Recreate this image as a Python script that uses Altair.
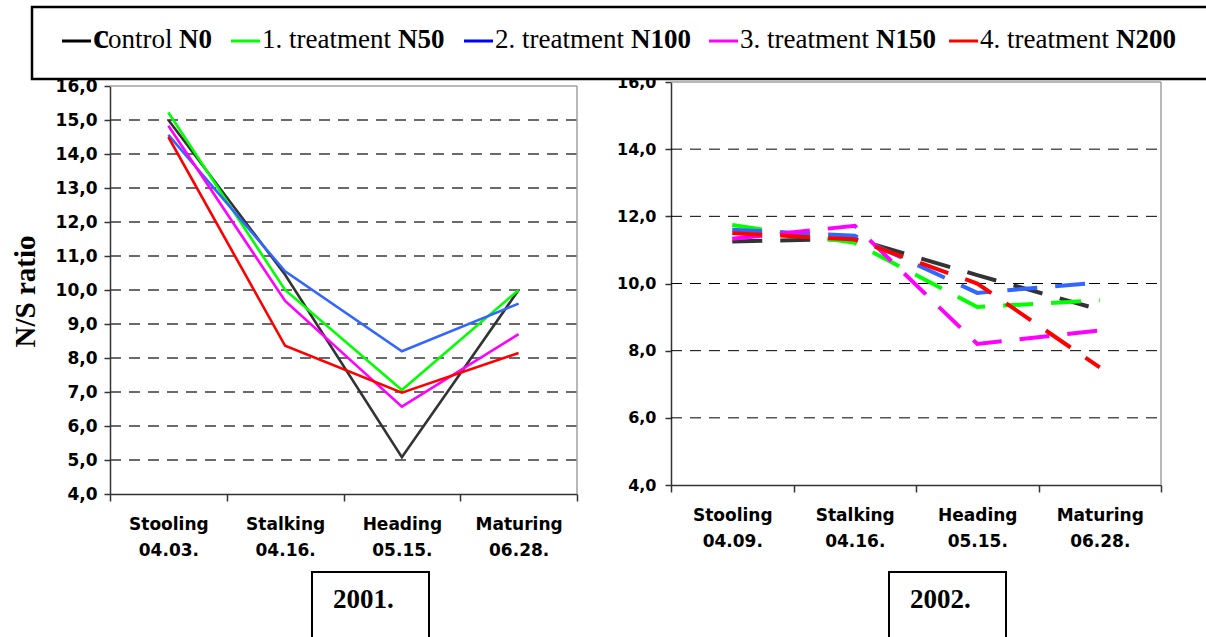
import altair as alt
import pandas as pd

# ---- data -------------------------------------------------------------
stages_2001 = ["Stooling|04.03.", "Stalking|04.16.", "Heading|05.15.", "Maturing|06.28."]
stages_2002 = ["Stooling|04.09.", "Stalking|04.16.", "Heading|05.15.", "Maturing|06.28."]
series = ["control N0", "1. treatment N50", "2. treatment N100",
          "3. treatment N150", "4. treatment N200"]
years = ["2001.", "2002."]

# N/S ratio, 2001
ns_2001_n0 = [15.0, 10.45, 5.08, 10.0]
ns_2001_n50 = [15.22, 10.0, 7.06, 10.0]
ns_2001_n100 = [14.56, 10.55, 8.2, 9.6]
ns_2001_n150 = [14.83, 9.68, 6.57, 8.7]
ns_2001_n200 = [14.5, 8.36, 6.98, 8.15]

# N/S ratio, 2002
ns_2002_n0 = [11.25, 11.33, 10.25, 9.22]
ns_2002_n50 = [11.74, 11.21, 9.3, 9.5]
ns_2002_n100 = [11.6, 11.42, 9.72, 10.03]
ns_2002_n150 = [11.33, 11.72, 8.2, 8.6]
ns_2002_n200 = [11.5, 11.31, 10.0, 7.5]

y_ticks_2001 = [4, 5, 6, 7, 8, 9, 10, 11, 12, 13, 14, 15, 16]
y_ticks_2002 = [4, 6, 8, 10, 12, 14, 16]
grid_2001 = [5, 6, 7, 8, 9, 10, 11, 12, 13, 14, 15]
grid_2002 = [6, 8, 10, 12, 14]

# ---- styling ----------------------------------------------------------
line_colors = ["#333333", "#00ff00", "#3366ff", "#ff00ff", "#ff0000"]
legend_colors = ["#000000", "#00ff00", "#0000ff", "#ff00ff", "#ff0000"]
AXIS_FONT = "DejaVu Sans"
SERIF = "Liberation Serif"
W, H = 1206, 637

# plot-area placement of the two panels (pixels)
P1 = dict(x0=110, x1=577, ytop=86, ybot=494)
P2 = dict(x0=671, x1=1161, ytop=82, ybot=485)


def long_table(stages, rows):
    recs = []
    for name, vals in zip(series, rows):
        for i, (st, v) in enumerate(zip(stages, vals)):
            recs.append({"series": name, "stage": st, "idx": i, "ns": v})
    return pd.DataFrame(recs)


df01 = long_table(stages_2001, [ns_2001_n0, ns_2001_n50, ns_2001_n100, ns_2001_n150, ns_2001_n200])
df02 = long_table(stages_2002, [ns_2002_n0, ns_2002_n50, ns_2002_n100, ns_2002_n150, ns_2002_n200])

color_scale = alt.Scale(domain=series, range=line_colors)
label_expr_num = "replace(format(datum.value, '.1f'), '.', ',')"


def panel(df, stages, p, yvals, gridvals, y_label_size, y_label_pad, dashed, title):
    xs = alt.Scale(type="band", domain=stages, range=[p["x0"], p["x1"]],
                   paddingInner=0, paddingOuter=0)
    ys = alt.Scale(domain=[4, 16], range=[p["ybot"], p["ytop"]], nice=False, zero=False)
    fx = alt.Scale(domain=[0, 4], range=[p["x0"], p["x1"]], nice=False, zero=False)

    grid_df = pd.DataFrame({"g": gridvals, "a": 0, "b": 4})
    grid = alt.Chart(grid_df).mark_rule(
        strokeDash=[11, 8], color="#3a3a3a" if not dashed else "#000000",
        strokeWidth=1.4 if not dashed else 1.0
    ).encode(
        x=alt.X("a:Q", scale=fx, axis=None),
        x2="b:Q",
        y=alt.Y("g:Q", scale=ys, axis=None),
    )

    top_df = pd.DataFrame({"g": [16], "a": [0], "b": [4]})
    top = alt.Chart(top_df).mark_rule(color="#a0a0a0", strokeWidth=1.5).encode(
        x=alt.X("a:Q", scale=fx, axis=None), x2="b:Q",
        y=alt.Y("g:Q", scale=ys, axis=None),
    )
    right_df = pd.DataFrame({"a": [4], "lo": [4], "hi": [16]})
    right = alt.Chart(right_df).mark_rule(color="#a0a0a0", strokeWidth=1.5).encode(
        x=alt.X("a:Q", scale=fx, axis=None),
        y=alt.Y("lo:Q", scale=ys, axis=None), y2="hi:Q",
    )

    x_axis = alt.Axis(
        orient="bottom", offset=p["ybot"] - H, tickBand="extent",
        labelExpr="split(datum.label, '|')", labelAngle=0,
        labelFont=AXIS_FONT, labelFontWeight="bold", labelFontSize=17,
        labelLineHeight=26, labelPadding=15, labelColor="#000000",
        labelOverlap=False, tickSize=7, tickWidth=1.5, tickColor="#333333",
        domainColor="#333333", domainWidth=1.5, grid=False, title=None,
    )
    y_kwargs = dict(
        orient="left", offset=-p["x0"], values=yvals, labelExpr=label_expr_num,
        labelFont=AXIS_FONT, labelFontWeight="bold", labelFontSize=y_label_size,
        labelPadding=y_label_pad, labelColor="#000000", tickSize=6, tickWidth=1.5,
        tickColor="#333333", domainColor="#333333", domainWidth=1.5, grid=False,
    )
    if title:
        y_axis = alt.Axis(
            title=title, titleFont=SERIF, titleFontSize=29, titleFontWeight="bold",
            titleColor="#000000", titleAngle=270, titleAlign="center",
            titleBaseline="alphabetic", titleX=34 - p["x0"], titleY=291, **y_kwargs,
        )
    else:
        y_axis = alt.Axis(title=None, **y_kwargs)

    mark_kw = dict(strokeWidth=2.6, strokeJoin="miter")
    if dashed:
        mark_kw = dict(strokeWidth=4, strokeDash=[30, 18], strokeCap="butt")
    lines = alt.Chart(df).mark_line(**mark_kw).encode(
        x=alt.X("stage:N", scale=xs, sort=stages, axis=x_axis),
        y=alt.Y("ns:Q", scale=ys, axis=y_axis),
        color=alt.Color("series:N", scale=color_scale, legend=None),
        order=alt.Order("idx:Q"),
    )
    return [grid, top, right, lines]


left = panel(df01, stages_2001, P1, y_ticks_2001, grid_2001, 17, 7, False, "N/S ratio")
right = panel(df02, stages_2002, P2, y_ticks_2002, grid_2002, 16, 9, True, None)

# ---- legend box across the top -----------------------------------------
legend_box = alt.Chart(pd.DataFrame({"k": [0]})).mark_rect(
    fill="white", stroke="black", strokeWidth=2.5
).encode(x=alt.value(32), x2=alt.value(W + 20), y=alt.value(7), y2=alt.value(79))

legend_line_x = [62, 231, 464, 709, 949]
LINE_LEN, TEXT_GAP, BASE_Y, LINE_Y = 29, 31, 48, 41
BOLD_SHIFT = 136  # width of "N. treatment " at 27px

key_df = pd.DataFrame({
    "x0": legend_line_x,
    "x1": [x + LINE_LEN for x in legend_line_x],
    "y": [LINE_Y] * len(series),
    "series": series,
})
legend_keys = alt.Chart(key_df).mark_rule(strokeWidth=3).encode(
    x=alt.X("x0:Q", scale=None), x2="x1:Q",
    y=alt.Y("y:Q", scale=None),
    color=alt.Color("series:N", scale=alt.Scale(domain=series, range=legend_colors), legend=None),
)

regular_rows, bold_rows, big_rows = [], [], []
for name, lx in zip(series, legend_line_x):
    head, tail = name.rsplit(" ", 1)
    tx = lx + TEXT_GAP
    if head.startswith("control"):
        big_rows.append({"t": head[0], "x": tx, "y": BASE_Y})
        regular_rows.append({"t": head[1:], "x": tx + 15, "y": BASE_Y})
        bold_rows.append({"t": tail, "x": tx + 86, "y": BASE_Y})
    else:
        regular_rows.append({"t": head, "x": tx, "y": BASE_Y})
        bold_rows.append({"t": tail, "x": tx + BOLD_SHIFT, "y": BASE_Y})


def text_layer(rows, size, weight):
    return alt.Chart(pd.DataFrame(rows)).mark_text(
        font=SERIF, fontSize=size, fontWeight=weight, align="left",
        baseline="alphabetic", color="black"
    ).encode(x=alt.X("x:Q", scale=None), y=alt.Y("y:Q", scale=None), text="t:N")


legend_text = [
    text_layer(regular_rows, 27, "normal"),
    text_layer(bold_rows, 27, "bold"),
    text_layer(big_rows, 36, "bold"),
]

# ---- year boxes under the panels ------------------------------------------
year_box_x = [312, 889]
year_df = pd.DataFrame({
    "year": years,
    "x0": year_box_x,
    "x1": [x + 117 for x in year_box_x],
    "tx": [x + 21 for x in year_box_x],
    "y0": [572, 572],
    "y1": [H + 20, H + 20],
    "ty": [608, 608],
})
year_boxes = alt.Chart(year_df).mark_rect(fill="white", stroke="black", strokeWidth=2).encode(
    x=alt.X("x0:Q", scale=None), x2="x1:Q",
    y=alt.Y("y0:Q", scale=None), y2="y1:Q",
)
year_text = alt.Chart(year_df).mark_text(
    font=SERIF, fontSize=27, fontWeight="bold", align="left",
    baseline="alphabetic", color="black"
).encode(x=alt.X("tx:Q", scale=None), y=alt.Y("ty:Q", scale=None), text="year:N")

chart = alt.layer(
    *left, *right, legend_box, legend_keys, *legend_text, year_boxes, year_text
).resolve_scale(
    x="independent", y="independent", color="independent"
).properties(
    width=W, height=H, autosize=alt.AutoSizeParams(type="none"), padding=0,
    background="white",
).configure_view(stroke=None)

chart.save("out.html", embed_options={"renderer": "svg", "actions": False})
